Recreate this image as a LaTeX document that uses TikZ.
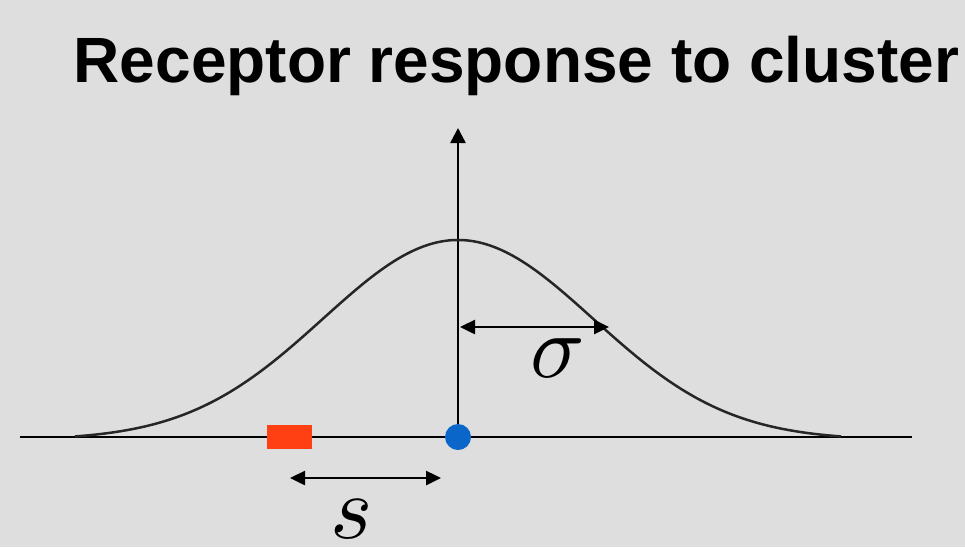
\documentclass[tikz,border=0pt]{standalone}
\usepackage{fontspec}
\setmainfont{Liberation Sans}
\usetikzlibrary{arrows.meta}
\definecolor{bg}{HTML}{DEDEDE}
\definecolor{clusterred}{HTML}{FF4012}
\definecolor{recblue}{HTML}{0A66C8}
\tikzset{
  axis/.style={line width=2.5pt, draw=black},
  curve/.style={line width=2.5pt, draw=black!85},
  dimarrow/.style={line width=2.5pt, {Triangle[length=15pt,width=14pt]}-{Triangle[length=15pt,width=14pt]}},
  uparrow/.style={line width=2.5pt, -{Triangle[length=15pt,width=15pt]}},
  biglabel/.style={inner sep=0pt, scale=9, font=\fontsize{10}{10}\selectfont},
}
\begin{document}
\begin{tikzpicture}[x=1pt,y=-1pt]
\useasboundingbox (0,0) rectangle (965,547);
\fill[bg] (0,0) rectangle (965,547);
\node[anchor=base, inner sep=0pt, font=\fontsize{64}{64}\selectfont\bfseries] (title) at (516.5,82) {Receptor response to cluster};
\coordinate (xl) at (20,437);
\coordinate (xr) at (912,437);
\coordinate (o) at (458,437);
\coordinate (ytop) at (458,128);
\coordinate (sl) at (460,327);
\coordinate (sr) at (609,327);
\coordinate (al) at (290,478);
\coordinate (ar) at (441,478);
\draw[axis] (xl) -- (xr);
\draw[uparrow] (o) -- (ytop);
\draw[curve] plot[domain=75:841, samples=241, smooth] (\x, {437 - (200*exp(-0.5*((\x-458)/135)^2) - 3)});
\draw[dimarrow] (sl) -- (sr);
\draw[dimarrow] (al) -- (ar);
\node[biglabel] (sig) at (558,358) {$\sigma$};
\node[biglabel] (slab) at (352,519) {$s$};
\node[fill=clusterred, minimum width=45pt, minimum height=24pt, inner sep=0pt] (cluster) at (289.5,437) {};
\node[circle, fill=recblue, minimum size=26pt, inner sep=0pt] (rec) at (o) {};
\end{tikzpicture}
\end{document}
